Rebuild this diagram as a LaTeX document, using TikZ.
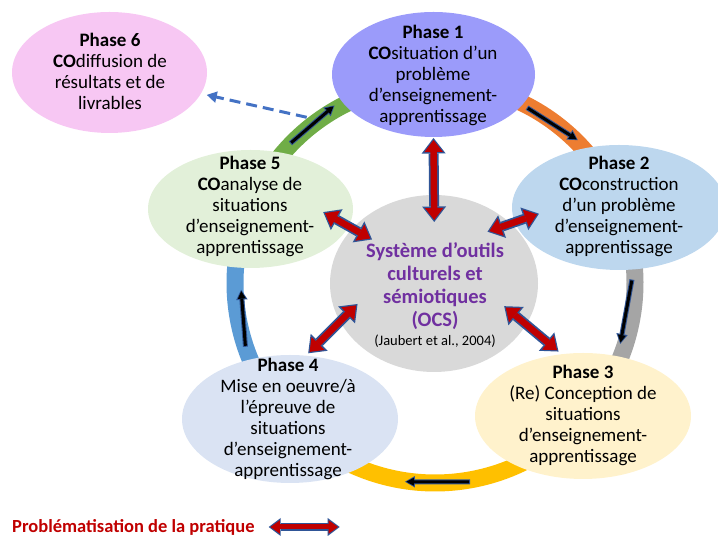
\documentclass[tikz,border=0pt]{standalone}
\usepackage{fontspec}
\setmainfont{Carlito}
\usetikzlibrary{arrows.meta, calc, shapes.geometric}

\definecolor{phsix}{HTML}{F7C7F3}
\definecolor{phone}{HTML}{9B9BFA}
\definecolor{phtwo}{HTML}{BDD7EE}
\definecolor{phthree}{HTML}{FFF2CC}
\definecolor{phfour}{HTML}{DAE3F3}
\definecolor{phfive}{HTML}{E2F0D9}
\definecolor{ocsgray}{HTML}{D9D9D9}
\definecolor{ocspurple}{HTML}{7030A0}
\definecolor{darkred}{HTML}{C00000}
\definecolor{edgeblue}{HTML}{2F5597}
\definecolor{dashblue}{HTML}{4472C4}
\definecolor{ringgreen}{HTML}{70AD47}
\definecolor{ringorange}{HTML}{ED7D31}
\definecolor{ringgray}{HTML}{A5A5A5}
\definecolor{ringgold}{HTML}{FFC000}
\definecolor{ringblue}{HTML}{5B9BD5}

\newcommand\phasefont{\fontsize{19}{21}\selectfont}
\newcommand\ocsfont{\fontsize{20.5}{23}\selectfont}
\newcommand\citefont{\fontsize{14.5}{17}\selectfont}
\newcommand\legendfont{\fontsize{18.5}{21}\selectfont}

\begin{document}
\begin{tikzpicture}[
    x=1pt, y=1pt,
    phase/.style={ellipse, draw=none, inner sep=0pt, outer sep=0pt},
    phasetxt/.style={align=center, font=\phasefont, inner sep=0pt},
    band/.style={line width=17pt},
    redlink/.style 2 args={draw=darkred, line width=6.5pt,
        {Triangle[length=12pt,width=18.5pt,line width=0pt]}-{Triangle[length=12pt,width=18.5pt,line width=0pt]},
        shorten <={#1+2pt}, shorten >={#2+2pt},
        preaction={draw=edgeblue, line width=10pt,
        {Triangle[length=15.5pt,width=24pt,line width=0pt]}-{Triangle[length=15.5pt,width=24pt,line width=0pt]},
        shorten <={#1}, shorten >={#2}}},
    legendlink/.style={draw=darkred, line width=5pt,
        {Triangle[length=9.5pt,width=13.5pt,line width=0pt]}-{Triangle[length=9.5pt,width=13.5pt,line width=0pt]},
        shorten <=1.7pt, shorten >=1.7pt,
        preaction={draw=edgeblue, line width=8pt,
        {Triangle[length=12pt,width=18pt,line width=0pt]}-{Triangle[length=12pt,width=18pt,line width=0pt]},
        shorten <=0pt, shorten >=0pt}},
    blacklink/.style={draw=black, line width=3pt,
        -{Triangle[length=7.5pt,width=8pt,line width=0pt]}, shorten <=1pt, shorten >=1.4pt,
        preaction={draw=edgeblue, line width=5pt,
        -{Triangle[length=10pt,width=11.5pt,line width=0pt]}, shorten <=0pt, shorten >=0pt}},
    dashlink/.style={draw=dashblue, line width=3pt, dash pattern=on 11pt off 6pt,
        -{Triangle[length=10pt,width=11pt]}}
]
    \useasboundingbox (0,0) rectangle (718,537);

    % ---- ring bands between the phases ----
    \coordinate (ring) at (435,254);
    \foreach \a/\b/\c in {115/141/ringgreen, 40/66/ringorange, -24/6/ringgray,
                          -115/-58/ringgold, 172/204/ringblue} {
        \draw[band, draw=\c] ($(ring)+(\a:200pt)$) arc[start angle=\a, end angle=\b, radius=200pt];
    }

    % ---- ellipses ----
    \node[phase, fill=ocsgray, minimum width=208pt, minimum height=177pt] (ocs) at (434,253.5) {};
    \node[phase, fill=phsix,   minimum width=195pt, minimum height=121pt] (p6) at (109.5,464.5) {};
    \node[phase, fill=phone,   minimum width=203pt, minimum height=125pt] (p1) at (433.5,462.5) {};
    \node[phase, fill=phtwo,   minimum width=214pt, minimum height=125pt] (p2) at (619,329.5) {};
    \node[phase, fill=phthree, minimum width=216pt, minimum height=126pt] (p3) at (583,121) {};
    \node[phase, fill=phfour,  minimum width=216pt, minimum height=128pt] (p4) at (290,118) {};
    \node[phase, fill=phfive,  minimum width=205pt, minimum height=118pt] (p5) at (250.5,328) {};

    % ---- texts ----
    \node[phasetxt] (t6) at (110,465.5) {\textbf{Phase 6}\\\textbf{CO}diffusion de\\résultats et de\\livrables};
    \node[phasetxt] (t1) at (433,462) {\textbf{Phase 1}\\\textbf{CO}situation d’un\\problème\\d’enseignement-\\apprentissage};
    \node[phasetxt] (t2) at (619,331) {\textbf{Phase 2}\\\textbf{CO}construction\\d’un problème\\d’enseignement-\\apprentissage};
    \node[phasetxt] (t5) at (250,330.5) {\textbf{Phase 5}\\\textbf{CO}analyse de\\situations\\d’enseignement-\\apprentissage};
    \node[phasetxt] (t4) at (288,118.5) {\textbf{Phase 4}\\Mise en oeuvre/à\\l’épreuve de\\situations\\d’enseignement-\\apprentissage};
    \node[phasetxt] (t3) at (583,122) {\textbf{Phase 3}\\(Re) Conception de\\situations\\d’enseignement-\\apprentissage};
    \node[align=center, inner sep=0pt, font=\ocsfont\bfseries, text=ocspurple] (ocstxt) at (435,242)
        {Système d’outils\\culturels et\\sémiotiques\\(OCS)\\[-4pt]{\citefont\mdseries\color{black}(Jaubert et al., 2004)}};

    % ---- cycle arrows ----
    \draw[blacklink] ($(ring)+(136:201pt)$)   -- ($(ring)+(119.5:204pt)$);
    \draw[blacklink] ($(ring)+(62.3:198pt)$)  -- ($(ring)+(45:202pt)$);
    \draw[blacklink] ($(ring)+(1:197pt)$)     -- ($(ring)+(-18.2:195pt)$);
    \draw[blacklink] ($(ring)+(-80:202pt)$)   -- ($(ring)+(-98.6:201pt)$);
    \draw[blacklink] ($(ring)+(198.6:200pt)$) -- ($(ring)+(182:194pt)$);

    % ---- problematisation arrows ----
    \draw[redlink={1pt}{-27pt}]      (p1.south) -- (ocs.north);
    \draw[redlink={-29pt}{-22.4pt}]  (p5.-10)   -- (ocs.146);
    \draw[redlink={-25.4pt}{-24.5pt}] (p2.188)  -- (ocs.38);
    \draw[redlink={3.4pt}{-24.7pt}]  (p4.76)    -- (ocs.202);
    \draw[redlink={4.2pt}{-28.6pt}]  (p3.109)   -- (ocs.336);

    % ---- towards phase 6 ----
    \coordinate (dstart) at (306.7,419.7);
    \draw[dashlink, shorten >=6pt] (dstart) -- (p6.-13);

    % ---- legend ----
    \node[font=\legendfont\bfseries, text=darkred, anchor=west, inner sep=0pt] (leg) at (12,10)
        {Problématisation de la pratique};
    \draw[legendlink] ([xshift=14pt]leg.east) -- ++(71,0);
\end{tikzpicture}
\end{document}
